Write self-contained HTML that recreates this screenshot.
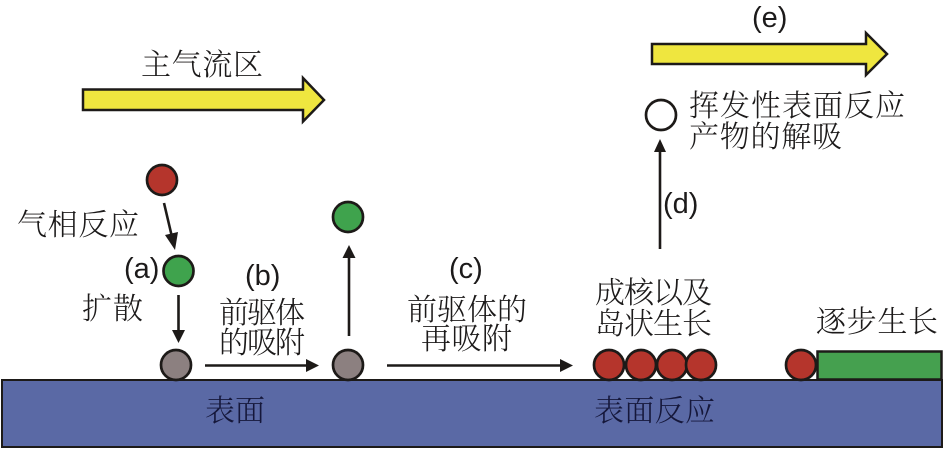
<!DOCTYPE html>
<html><head><meta charset="utf-8"><style>
html,body{margin:0;padding:0;background:#fff;width:945px;height:450px;overflow:hidden}
svg{display:block}
.z{font-family:"Noto Serif CJK SC","Liberation Serif",serif;font-weight:300;font-size:30px;fill:#1c1a1a}
.l{font-family:"Liberation Sans",sans-serif;font-size:29px;fill:#1c1a1a}
.c{stroke:#1d1a18;stroke-width:2.7}
.a{stroke:#1d1a18;stroke-width:2.6;fill:none}
.h{fill:#1d1a18}
</style></head><body>
<svg width="945" height="450" viewBox="0 0 945 450" xmlns="http://www.w3.org/2000/svg">
<rect x="2" y="380" width="940" height="67" fill="#5a69a5" stroke="#1d1a18" stroke-width="2"/>
<polygon points="83,89.500 303,89.500 303,78 324,100 303,121.500 303,110 83,110" fill="#efe63f" stroke="#1d1a18" stroke-width="2.500"/>
<polygon points="652,44 866,44 866,33 887,54 866,75 866,64 652,64" fill="#efe63f" stroke="#1d1a18" stroke-width="2.500"/>

<rect x="817.500" y="351.500" width="124" height="28" fill="#45a04f" stroke="#1d1a18" stroke-width="2.500"/>

<circle cx="162" cy="180" r="15" fill="#b5352c" class="c"/>
<circle cx="178.500" cy="271" r="15" fill="#3fa34d" class="c"/>
<circle cx="176" cy="365" r="15" fill="#8c8080" class="c"/>
<circle cx="348" cy="365" r="15" fill="#8c8080" class="c"/>
<circle cx="348" cy="217" r="15" fill="#3fa34d" class="c"/>
<circle cx="661" cy="115" r="15" fill="#fff" class="c"/>
<circle cx="609" cy="365" r="15" fill="#b5352c" class="c"/>
<circle cx="641" cy="365" r="15" fill="#b5352c" class="c"/>
<circle cx="672" cy="365" r="15" fill="#b5352c" class="c"/>
<circle cx="701" cy="365" r="15" fill="#b5352c" class="c"/>
<circle cx="801" cy="365" r="15" fill="#b5352c" class="c"/>

<line x1="164" y1="203" x2="172" y2="237" class="a"/>
<polygon class="h" points="175,250 165,235 178,232"/>
<line x1="178.500" y1="295" x2="178.500" y2="330" class="a"/>
<polygon class="h" points="178.500,343 172,330 185,330"/>
<line x1="205" y1="365.500" x2="306" y2="365.500" class="a"/>
<polygon class="h" points="319,365.500 306,359 306,372"/>
<line x1="349" y1="336" x2="349" y2="258" class="a"/>
<polygon class="h" points="349,245 342.500,258 355.500,258"/>
<line x1="387" y1="365.500" x2="562" y2="365.500" class="a"/>
<polygon class="h" points="573,365.500 560,359 560,372"/>
<line x1="660" y1="249" x2="660" y2="150" class="a"/>
<polygon class="h" points="660,139 654,152 666,152"/>

<text class="z" x="141" y="75" textLength="122">主气流区</text>
<text class="z" x="17" y="235" textLength="122">气相反应</text>
<text class="z" x="82" y="319" textLength="61">扩散</text>
<text class="z" x="219" y="323" textLength="86">前驱体</text>
<text class="z" x="219" y="353" textLength="86">的吸附</text>
<text class="z" x="407" y="320" textLength="120">前驱体的</text>
<text class="z" x="421" y="349" textLength="91">再吸附</text>
<text class="z" x="595" y="303" textLength="117">成核以及</text>
<text class="z" x="595" y="334" textLength="117">岛状生长</text>
<text class="z" x="816" y="332" textLength="122">逐步生长</text>
<text class="z" x="689" y="116" textLength="216">挥发性表面反应</text>
<text class="z" x="689" y="147" textLength="153">产物的解吸</text>
<text class="z" x="205" y="421" textLength="60" style="fill:#15173a">表面</text>
<text class="z" x="594" y="421" textLength="121" style="fill:#15173a">表面反应</text>

<text class="l" x="124" y="278">(a)</text>
<text class="l" x="245" y="285">(b)</text>
<text class="l" x="449" y="278">(c)</text>
<text class="l" x="663" y="213">(d)</text>
<text class="l" x="752" y="27">(e)</text>
</svg>
</body></html>
